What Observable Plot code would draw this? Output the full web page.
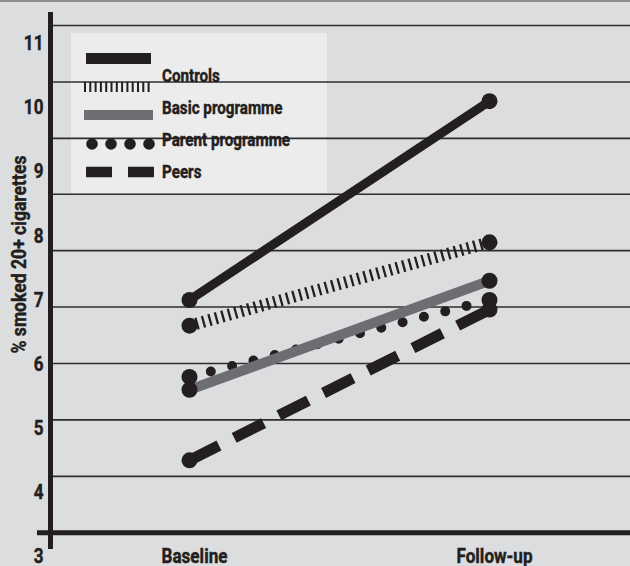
<!DOCTYPE html>
<html><head><meta charset="utf-8">
<script src="https://cdn.jsdelivr.net/npm/d3@7"></script>
<script src="https://cdn.jsdelivr.net/npm/@observablehq/plot@0.6"></script>
<style>
html,body{margin:0;padding:0;background:#dcdddf;}
#wrap{position:relative;width:630px;height:566px;background:#dcdddf;overflow:hidden;}
#topline{position:absolute;left:0;top:0;width:630px;height:2px;background:#8c8d8f;}
#legendbox{position:absolute;left:71px;top:33px;width:256px;height:160px;background:#ececec;}
#chart,#legend{position:absolute;left:0;top:0;}
svg text{font-weight:700;stroke:#231f20;stroke-width:0.45px;}
</style></head><body>
<div id="wrap"><div id="legendbox"></div><div id="chart"></div><div id="legend"></div><div id="topline"></div></div>
<script>
// ---- data ----
const timepoints = ["Baseline", "Follow-up"];
const seriesKeys = ["solid", "hatched", "grey", "dotted", "dashed"];
const baselineValues = [7.0, 6.6, 5.6, 5.8, 4.5];
const followUpValues = [10.1, 7.9, 7.3, 7.0, 6.85];
const legendLabels = ["", "Controls", "Basic programme", "Parent programme", "Peers"];
const yTickValues = [3, 4, 5, 6, 7, 8, 9, 10, 11];
const gridValues = [11.28, 10.40, 9.52, 8.65, 7.77, 6.89, 6.01, 5.13, 4.25];
const xAxisValue = 3.37;
const yTitle = "% smoked 20+ cigarettes";

// ---- styles ----
const ink = "#231f20";
const font = 'Roboto,"Liberation Sans",sans-serif';
const styles = {
  solid:  {stroke: ink, strokeWidth: 9, strokeLinecap: "butt"},
  hatched:{stroke: ink, strokeWidth: 12, strokeDasharray: "2.3,4.4", strokeLinecap: "butt"},
  grey:   {stroke: "#6d6e71", strokeWidth: 10, strokeLinecap: "butt"},
  dotted: {stroke: ink, strokeWidth: 10, strokeDasharray: "0,22", strokeLinecap: "round"},
  dashed: {stroke: ink, strokeWidth: 11, strokeDasharray: "33,17", strokeLinecap: "butt"}
};
const drawOrder = ["dashed", "dotted", "grey", "hatched", "solid"];

const rows = seriesKeys.flatMap((k, i) => [
  {series: k, time: timepoints[0], value: baselineValues[i]},
  {series: k, time: timepoints[1], value: followUpValues[i]}
]);

const chart = Plot.plot({
  width: 630, height: 566,
  marginTop: 14, marginBottom: 20, marginLeft: 50, marginRight: 0,
  style: {background: "transparent", fontFamily: font, color: ink},
  x: {type: "point", domain: timepoints, range: [189, 489], padding: 0},
  y: {domain: [3, 11], range: [556, 43]},
  marks: [
    Plot.ruleY(gridValues, {stroke: "#2e2e2e", strokeWidth: 1.6}),
    Plot.ruleY([xAxisValue], {stroke: ink, strokeWidth: 5, insetLeft: -13}),
    Plot.frame({anchor: "left", stroke: ink, strokeWidth: 5}),
    ...drawOrder.map(k => Plot.line(rows.filter(d => d.series === k), {x: "time", y: "value", ...styles[k]})),
    Plot.dot(rows, {x: "time", y: "value", r: 8, fill: ink}),
    Plot.axisY(yTickValues, {tickSize: 0, tickPadding: 7, fontSize: 21, fontWeight: "bold", fill: ink, tickFormat: d => String(d), label: null}),
    Plot.axisX({tickSize: 0, tickPadding: 2, fontSize: 21, fontWeight: "bold", fill: ink, dx: 5, label: null}),
    Plot.text([yTitle], {frameAnchor: "left", textAnchor: "middle", rotate: -90, dx: -31, dy: -26, fontSize: 20, fontWeight: "bold", fill: ink})
  ]
});
document.getElementById("chart").appendChild(chart);

// ---- legend (overlay) ----
const swatchY = [58.5, 87, 115, 144, 172];
const labelY = [null, 76, 108, 140, 172];
const lg = d3.select("#legend").append("svg").attr("width", 630).attr("height", 566);
seriesKeys.forEach((k, i) => {
  const y = swatchY[i];
  if (k === "dotted") {
    [92, 111, 130, 149].forEach(cx => lg.append("circle").attr("cx", cx).attr("cy", y).attr("r", 5.8).attr("fill", ink));
  } else {
    const s = {
      solid:  {x1: 86, x2: 151, w: 11, dash: null, c: ink},
      hatched:{x1: 84, x2: 152, w: 10, dash: "2,3.3", c: ink},
      grey:   {x1: 84, x2: 153, w: 10, dash: null, c: "#6d6e71"},
      dashed: {x1: 86, x2: 154, w: 10.5, dash: "26,16", c: ink}
    }[k];
    const l = lg.append("line").attr("x1", s.x1).attr("x2", s.x2).attr("y1", y).attr("y2", y)
      .attr("stroke", s.c).attr("stroke-width", s.w);
    if (s.dash) l.attr("stroke-dasharray", s.dash);
  }
  if (legendLabels[i]) {
    lg.append("text").attr("class", "lgt").attr("x", 162).attr("y", labelY[i]).attr("dy", "0.36em")
      .attr("font-family", font).attr("font-size", 18).attr("font-weight", 700).attr("fill", ink)
      .text(legendLabels[i]);
  }
});

// ---- condense text (reference uses a bold condensed face) ----
function condense(nodes, refText, refWidth) {
  const arr = Array.from(nodes);
  const r = arr.find(t => t.textContent === refText);
  if (!r) return;
  const k = refWidth / r.getComputedTextLength();
  arr.forEach(t => {
    const L = t.getComputedTextLength();
    if (L > 0) { t.setAttribute("textLength", L * k); t.setAttribute("lengthAdjust", "spacingAndGlyphs"); }
  });
}
condense(document.querySelectorAll("#chart g[aria-label='x-axis tick label'] text, #chart g[aria-label='y-axis tick label'] text"), "Baseline", 66);
condense(document.querySelectorAll("#legend text.lgt"), "Parent programme", 128);
condense(document.querySelectorAll("#chart g[aria-label='text'] text"), yTitle, 198);
</script>
</body></html>
